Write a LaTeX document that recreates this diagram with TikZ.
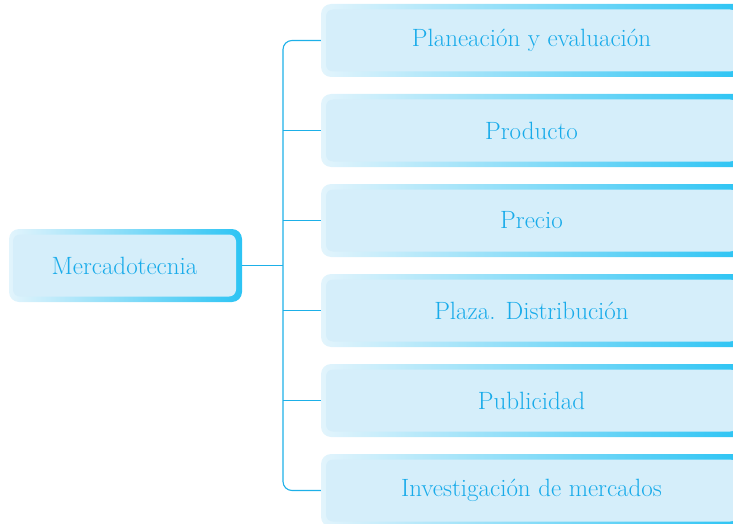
\documentclass[tikz,border=0pt]{standalone}
\usepackage{fontspec}
\usetikzlibrary{positioning}
\definecolor{fondo}{HTML}{D5EEFA}
\definecolor{bordeclaro}{HTML}{E2F4FC}
\definecolor{bordeazul}{HTML}{2CC4F4}
\definecolor{textoazul}{HTML}{18ABEA}
\definecolor{lineaazul}{HTML}{1DB0E8}
\tikzset{
  borde/.style={rounded corners=10pt,left color=bordeclaro,right color=bordeazul,
    draw=none,inner sep=0pt,minimum height=73pt},
  relleno/.style={rounded corners=7pt,fill=fondo,draw=none,inner sep=0pt,
    minimum height=62pt,text=textoazul,font=\fontsize{25}{29}\selectfont},
  conector/.style={draw=lineaazul,line width=1.1pt}
}
\begin{document}
\begin{tikzpicture}[x=1pt,y=-1pt]
\useasboundingbox (0,0) rectangle (733,524);
% caja central
\node[borde,minimum width=233pt] (merc) at (125.5,265.5) {};
\node[relleno,minimum width=223pt] (merc-t) at (124.5,265.5) {Mercadotecnia};
% ramas
\foreach \n/\texto [count=\i] in {plan/Planeación y evaluación,prod/Producto,
    prec/Precio,plaz/Plaza. Distribución,publ/Publicidad,inv/Investigación de mercados}{
  \node[borde,minimum width=422pt] (\n) at (532,{40.5+90*(\i-1)}) {};
  \node[relleno,minimum width=411pt] (\n-t) at (531.5,{40.5+90*(\i-1)}) {\texto};
}
\coordinate (eje) at (283,265.5);
\draw[conector,rounded corners=9pt] (plan.west) -| (eje) |- (inv.west);
\draw[conector] (merc.east) -- (eje);
\foreach \n in {prod,prec,plaz,publ}
  \draw[conector] (\n.west) -- (\n.west -| eje);
\end{tikzpicture}
\end{document}
